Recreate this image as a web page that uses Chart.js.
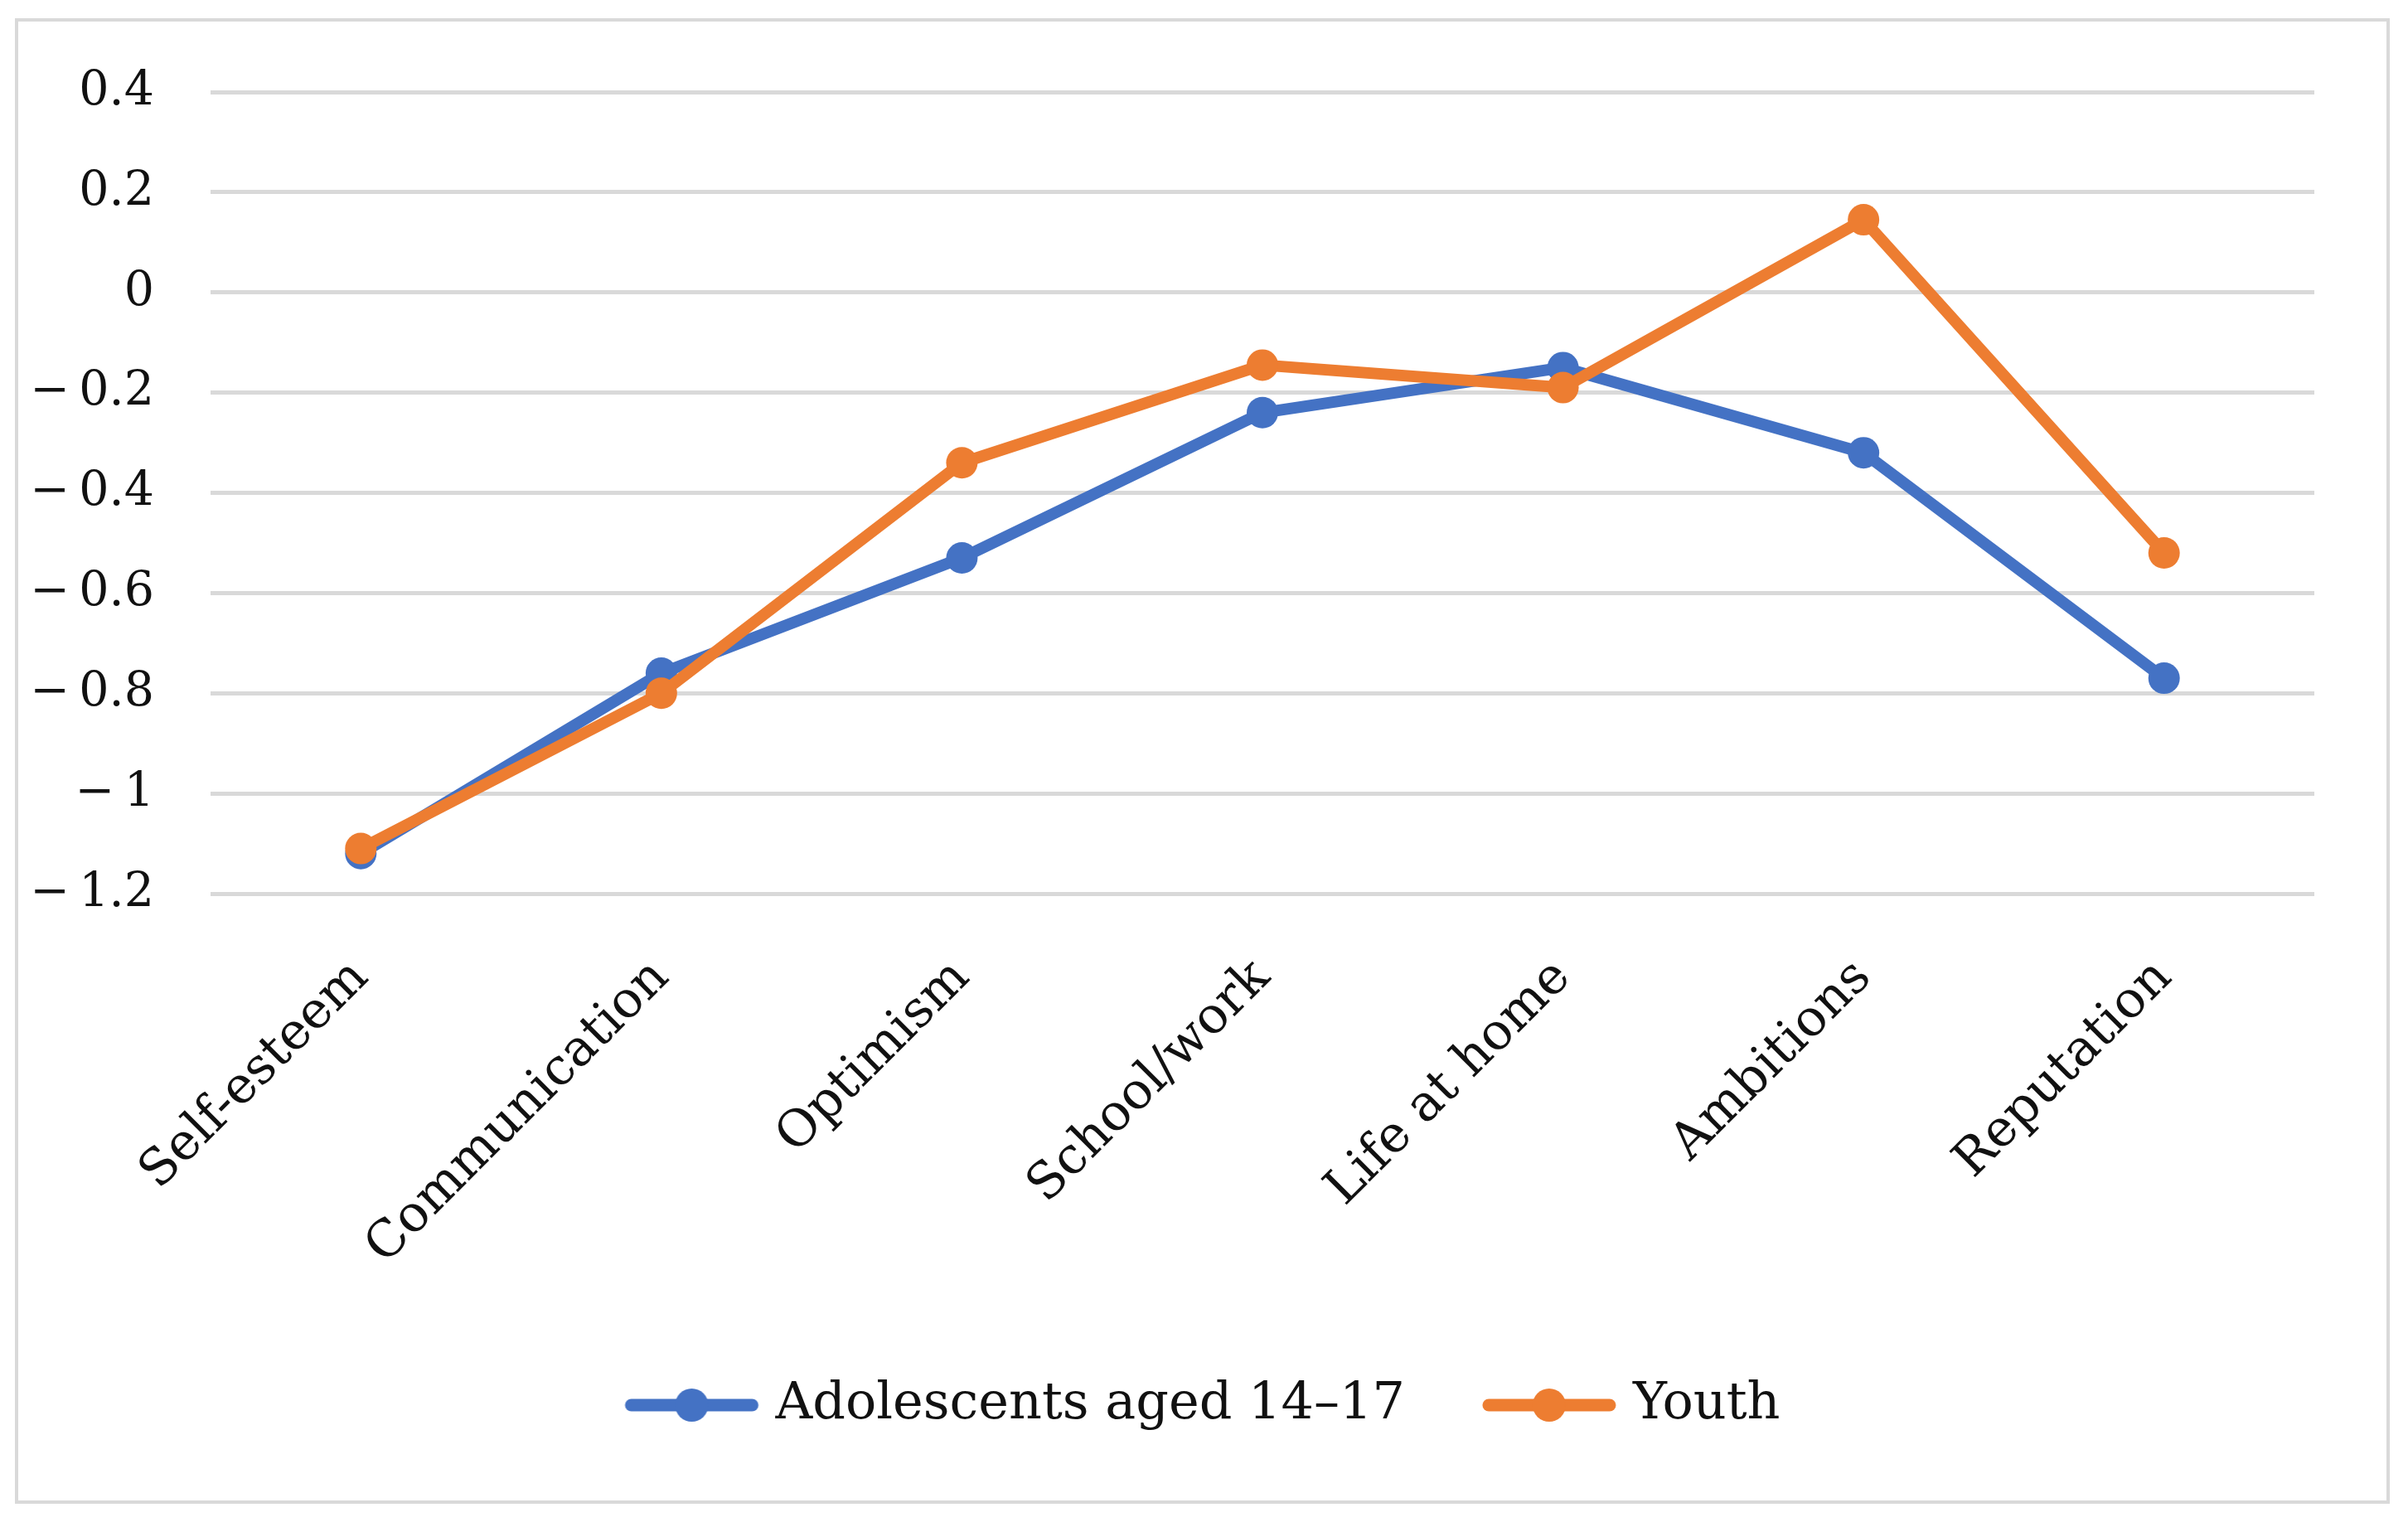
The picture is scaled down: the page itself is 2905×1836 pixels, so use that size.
<!DOCTYPE html>
<html>
<head>
<meta charset="utf-8">
<script src="https://cdn.jsdelivr.net/npm/chart.js@4/dist/chart.umd.min.js"></script>
<style>
  html, body { margin: 0; padding: 0; background: #fff; }
  #wrap { position: relative; width: 2905px; height: 1836px; }
  #frame { position: absolute; left: 18px; top: 22px; width: 2857px; height: 1784px; border: 4px solid #d9d9d9; pointer-events: none; }
  canvas { position: absolute; left: 0; top: 0; }
</style>
</head>
<body>
<div id="wrap">
  <canvas id="chart" width="2905" height="1836"></canvas>
  <div id="frame"></div>
</div>
<script>
// categories and values
const categories  = ['Self-esteem', 'Communication', 'Optimism', 'School/work', 'Life at home', 'Ambitions', 'Reputation'];
const adolescents = [-1.12, -0.76, -0.53, -0.24, -0.15, -0.32, -0.77];
const youth       = [-1.11, -0.80, -0.34, -0.145, -0.19, 0.145, -0.52];
const yTicks      = [0.4, 0.2, 0, -0.2, -0.4, -0.6, -0.8, -1, -1.2];
const yTickLabels = ['0.4', '0.2', '0', '\u2212\u20090.2', '\u2212\u20090.4', '\u2212\u20090.6', '\u2212\u20090.8', '\u2212\u20091', '\u2212\u20091.2'];

const BLUE   = '#4472C4';
const ORANGE = '#ED7D31';
const FONT   = 'DejaVu Serif';

// Excel-like legend symbol: line with a dot on it
function legendSymbol(color) {
  const c = document.createElement('canvas');
  c.width = 164; c.height = 44;
  const ctx = c.getContext('2d');
  ctx.strokeStyle = color;
  ctx.lineWidth = 15;
  ctx.lineCap = 'round';
  ctx.beginPath(); ctx.moveTo(9, 22); ctx.lineTo(155, 22); ctx.stroke();
  ctx.fillStyle = color;
  ctx.beginPath(); ctx.arc(82, 22, 20, 0, Math.PI * 2); ctx.fill();
  return c;
}

// nudge the legend to sit centred on the page, like the original
const legendShift = {
  id: 'legendShift',
  afterLayout(chart) {
    chart.legend.left += 60;
    chart.legend.right += 60;
  },
};

const lineStyle = { borderWidth: 14, pointRadius: 19, pointBorderWidth: 0, borderJoinStyle: 'round', borderCapStyle: 'round', pointStyle: 'circle' };

new Chart(document.getElementById('chart'), {
  type: 'line',
  data: {
    labels: categories,
    datasets: [
      { ...lineStyle, label: 'Adolescents aged 14\u201317', data: adolescents, borderColor: BLUE, backgroundColor: BLUE,
        pointBackgroundColor: BLUE, order: 1, legendSym: legendSymbol(BLUE) },
      { ...lineStyle, label: 'Youth', data: youth, borderColor: ORANGE, backgroundColor: ORANGE,
        pointBackgroundColor: ORANGE, order: 0, legendSym: legendSymbol(ORANGE) },
    ],
  },
  plugins: [legendShift],
  options: {
    responsive: false,
    animation: false,
    layout: { padding: { left: 0, right: 113, top: 111, bottom: 100 } },
    plugins: {
      tooltip: { enabled: false },
      legend: {
        position: 'bottom',
        labels: {
          usePointStyle: true,
          pointStyleWidth: 140,
          padding: 104,
          color: '#111',
          font: { family: FONT, size: 62 },
          generateLabels: chart => chart.data.datasets.map((ds, i) => ({
            text: ds.label,
            pointStyle: ds.legendSym,
            fillStyle: ds.borderColor,
            strokeStyle: ds.borderColor,
            lineWidth: 0,
            hidden: false,
            datasetIndex: i,
            fontColor: '#111',
          })),
        },
      },
    },
    scales: {
      x: {
        offset: true,
        grid: { display: false },
        border: { display: false },
        afterFit: s => { s.height = 482; },
        ticks: {
          color: '#111',
          font: { family: FONT, size: 61 },
          minRotation: 45, maxRotation: 45,
          padding: 58,
        },
      },
      y: {
        min: -1.2, max: 0.4,
        afterFit: s => { s.width = 254; },
        afterBuildTicks: s => { s.ticks = yTicks.map(v => ({ value: v })); },
        grid: { color: '#d9d9d9', lineWidth: 5, drawTicks: false },
        border: { display: false },
        ticks: {
          color: '#111',
          font: { family: FONT, size: 57 },
          padding: 68,
          callback: v => yTickLabels[yTicks.findIndex(t => Math.abs(t - v) < 1e-9)],
        },
      },
    },
  },
});
</script>
</body>
</html>
